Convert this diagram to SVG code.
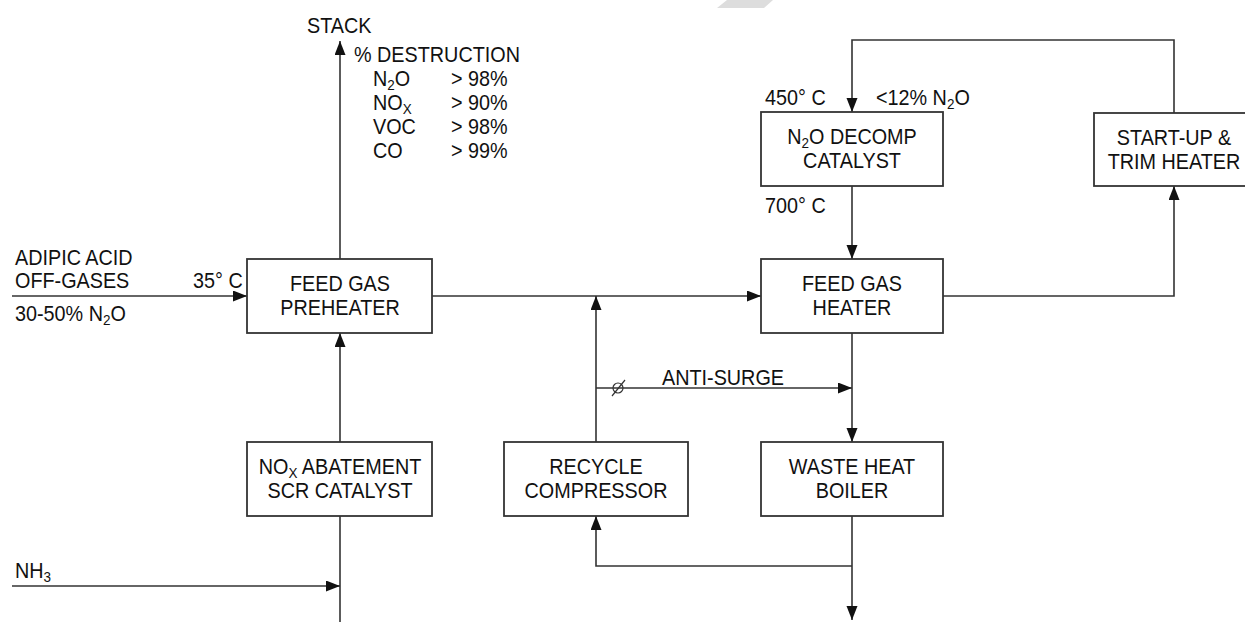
<svg xmlns="http://www.w3.org/2000/svg" width="1245" height="622" viewBox="0 0 1245 622">
<style>
  .box { fill: #ffffff; stroke: #333333; stroke-width: 1.8; }
  .ln { fill: none; stroke: #333333; stroke-width: 1.6; }
  text { font-family: "Liberation Sans", Arial, sans-serif; font-size: 22px; fill: #111111;
         transform-box: fill-box; transform-origin: left center; transform: scaleX(0.9); }
  text.c { text-anchor: middle; transform-origin: center center; }
  .sub { font-size: 15px; }
</style>
<defs>
  <marker id="ah" markerUnits="userSpaceOnUse" markerWidth="15" markerHeight="12" refX="14" refY="5.5" orient="auto">
    <path d="M0,0 L14,5.5 L0,11 z" fill="#111111"/>
  </marker>
</defs>
<rect width="1245" height="622" fill="#ffffff"/>
<polygon points="727,0 773,0 764,8 717,8" fill="#dddddd"/>

<g id="connectors">
  <path class="ln" d="M12,296 H247" marker-end="url(#ah)"/>
  <path class="ln" d="M432,296 H761" marker-end="url(#ah)"/>
  <path class="ln" d="M340,259 V41" marker-end="url(#ah)"/>
  <path class="ln" d="M340,442 V333" marker-end="url(#ah)"/>
  <path class="ln" d="M340,622 V516"/>
  <path class="ln" d="M12,586 H340" marker-end="url(#ah)"/>
  <path class="ln" d="M596,442 V296" marker-end="url(#ah)"/>
  <path class="ln" d="M596,388 H852" marker-end="url(#ah)"/>
  <path class="ln" d="M852,333 V442" marker-end="url(#ah)"/>
  <path class="ln" d="M852,516 V620" marker-end="url(#ah)"/>
  <path class="ln" d="M852,566 H596 V516" marker-end="url(#ah)"/>
  <path class="ln" d="M852,186 V259" marker-end="url(#ah)"/>
  <path class="ln" d="M943,296 H1174 V186" marker-end="url(#ah)"/>
  <path class="ln" d="M1174,113 V40 H852 V112" marker-end="url(#ah)"/>
  <g id="valve">
    <circle cx="618" cy="388" r="5" fill="none" stroke="#333333" stroke-width="1.2"/>
    <line x1="612" y1="396" x2="625" y2="380" stroke="#333333" stroke-width="1.2"/>
  </g>
</g>

<g id="preheater">
  <rect class="box" x="247" y="259" width="185" height="74"/>
  <text class="c" x="340" y="291">FEED GAS</text>
  <text class="c" x="340" y="315">PREHEATER</text>
</g>
<g id="nox-abatement">
  <rect class="box" x="247" y="442" width="185" height="74"/>
  <text class="c" x="340" y="474">NO<tspan class="sub" dy="4">X</tspan><tspan dy="-4"> ABATEMENT</tspan></text>
  <text class="c" x="340" y="498">SCR CATALYST</text>
</g>
<g id="recycle-compressor">
  <rect class="box" x="504" y="442" width="184" height="74"/>
  <text class="c" x="596" y="474">RECYCLE</text>
  <text class="c" x="596" y="498">COMPRESSOR</text>
</g>
<g id="waste-heat-boiler">
  <rect class="box" x="761" y="442" width="182" height="74"/>
  <text class="c" x="852" y="474">WASTE HEAT</text>
  <text class="c" x="852" y="498">BOILER</text>
</g>
<g id="feed-gas-heater">
  <rect class="box" x="761" y="259" width="182" height="74"/>
  <text class="c" x="852" y="291">FEED GAS</text>
  <text class="c" x="852" y="315">HEATER</text>
</g>
<g id="n2o-decomp">
  <rect class="box" x="761" y="112" width="182" height="74"/>
  <text class="c" x="852" y="144">N<tspan class="sub" dy="4">2</tspan><tspan dy="-4">O DECOMP</tspan></text>
  <text class="c" x="852" y="168">CATALYST</text>
</g>
<g id="startup-heater">
  <rect class="box" x="1094" y="113" width="160" height="73"/>
  <text class="c" x="1174" y="145">START-UP &amp;</text>
  <text class="c" x="1174" y="169">TRIM HEATER</text>
</g>

<g id="labels">
  <text x="307" y="33">STACK</text>
  <text x="354" y="62">% DESTRUCTION</text>
  <text x="373" y="86">N<tspan class="sub" dy="4">2</tspan><tspan dy="-4">O</tspan></text>
  <text x="451" y="86">&gt; 98%</text>
  <text x="373" y="110">NO<tspan class="sub" dy="4">X</tspan></text>
  <text x="451" y="110">&gt; 90%</text>
  <text x="373" y="134">VOC</text>
  <text x="451" y="134">&gt; 98%</text>
  <text x="373" y="158">CO</text>
  <text x="451" y="158">&gt; 99%</text>
  <text x="15" y="265">ADIPIC ACID</text>
  <text x="15" y="288">OFF-GASES</text>
  <text x="15" y="321">30-50% N<tspan class="sub" dy="4">2</tspan><tspan dy="-4">O</tspan></text>
  <text x="193" y="288">35° C</text>
  <text x="15" y="578">NH<tspan class="sub" dy="4">3</tspan></text>
  <text x="662" y="385">ANTI-SURGE</text>
  <text x="765" y="105">450° C</text>
  <text x="876" y="105">&lt;12% N<tspan class="sub" dy="4">2</tspan><tspan dy="-4">O</tspan></text>
  <text x="765" y="213">700° C</text>
</g>
</svg>
